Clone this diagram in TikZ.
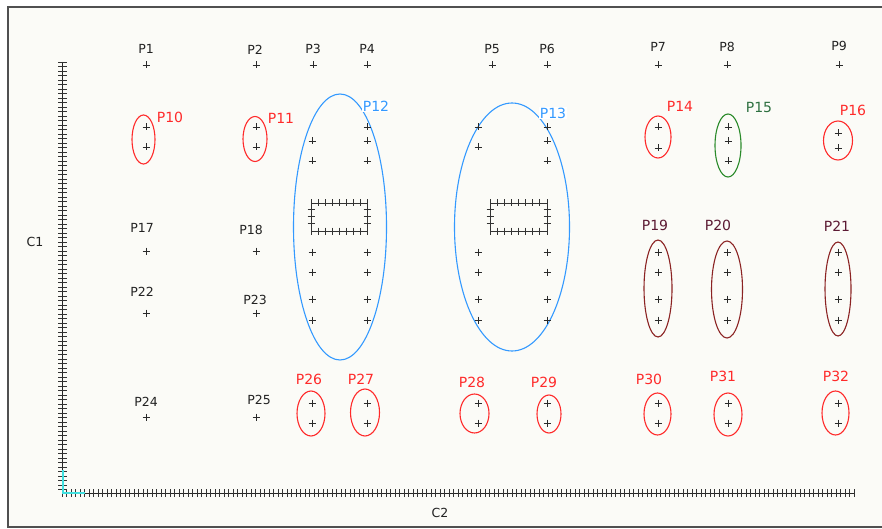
\documentclass[tikz,border=0pt]{standalone}
\usepackage{fontspec}
\setmainfont{DejaVu Sans}
\definecolor{pred}{HTML}{FF2A2A}
\definecolor{pblue}{HTML}{3399FF}
\definecolor{pgreen}{HTML}{2A8A2A}
\definecolor{pgreenlab}{HTML}{2E7040}
\definecolor{pmaroon}{HTML}{8B2323}
\definecolor{pmlab}{HTML}{5C1A33}
\definecolor{plab}{HTML}{222222}
\definecolor{bgc}{HTML}{FBFBF7}
\definecolor{framec}{HTML}{505050}
\definecolor{cyanax}{HTML}{40E0E0}
\definecolor{ptc}{HTML}{2A2A2A}
\tikzset{
  ptline/.style={draw=ptc, line width=0.75pt},
  pt/.pic={\draw[ptline] (-3.5,0)--(3.5,0) (0,-3.5)--(0,3.5);},
  blklab/.style={text=plab, font=\fontsize{12.5}{14}\selectfont, inner sep=0.5pt},
  redlab/.style={text=pred, font=\fontsize{14}{16}\selectfont, inner sep=0.5pt},
  bluelab/.style={text=pblue, font=\fontsize{14}{16}\selectfont, inner sep=1pt, fill=white},
  greenlab/.style={text=pgreenlab, font=\fontsize{14}{16}\selectfont, inner sep=0.5pt},
  marlab/.style={text=pmlab, font=\fontsize{14}{16}\selectfont, inner sep=0.5pt},
  redell/.style={draw=pred, line width=1.1pt},
  blueell/.style={draw=pblue, line width=1.1pt},
  greenell/.style={draw=pgreen, line width=1.1pt},
  marell/.style={draw=pmaroon, line width=1.1pt},
  axisline/.style={draw=black!85, line width=0.9pt},
  tickline/.style={draw=black!80, line width=0.85pt},
}
\begin{document}
\begin{tikzpicture}[x=1pt,y=-1pt]
\useasboundingbox (0,0) rectangle (882,529);
% background and frame
\fill[white] (0,0) rectangle (882,529);
\fill[bgc] (8,7) rectangle (882,527);
\draw[framec, line width=1.4pt] (882,7) -- (8,7) -- (8,527) -- (882,527);

% axes
\draw[axisline] (62,62) -- (62,493) -- (855,493);
\foreach \y in {62,66.5,...,493} \draw[tickline] (58,\y) -- (67,\y);
\foreach \x in {62,66.5,...,856} \draw[tickline] (\x,489) -- (\x,497);
\draw[cyanax, line width=1.2pt] (63,470) -- (63,493) -- (85,493);
\node[blklab] (c1) at (35,242) {C1};
\node[blklab] (c2) at (440,513) {C2};

% top row
\foreach \x in {146,256,313,367,492,547,658,727,839} \pic at (\x,65) {pt};
\node[blklab] (p1) at (146,49) {P1};
\node[blklab] (p2) at (255,50) {P2};
\node[blklab] (p3) at (313,49) {P3};
\node[blklab] (p4) at (367,49) {P4};
\node[blklab] (p5) at (492,49) {P5};
\node[blklab] (p6) at (547,49) {P6};
\node[blklab] (p7) at (658,47) {P7};
\node[blklab] (p8) at (727,47) {P8};
\node[blklab] (p9) at (839,46) {P9};

% P10, P11
\draw[redell] (143.5,139.5) ellipse [x radius=11.5, y radius=24.5];
\pic at (146,127) {pt}; \pic at (146,147) {pt};
\node[redlab] (p10) at (170,117) {P10};
\draw[redell] (255,139) ellipse [x radius=12, y radius=22.5];
\pic at (256,127) {pt}; \pic at (256,147) {pt};
\node[redlab] (p11) at (281,118) {P11};

% P12
\draw[blueell] (340,227) ellipse [x radius=46.5, y radius=133];
\foreach \x/\y in {367/127,312/141,367/141,312/161,367/161} \pic at (\x,\y) {pt};
\foreach \y in {252,272,299,320} {\pic at (312,\y) {pt}; \pic at (367,\y) {pt};}
\draw[tickline] (311,203) rectangle (367,231);
\foreach \x in {311,318,...,367} {\draw[tickline] (\x,199.5) -- (\x,206.5); \draw[tickline] (\x,227.5) -- (\x,234.5);}
\foreach \y in {209,216,223} {\draw[tickline] (307.5,\y) -- (314.5,\y); \draw[tickline] (363.5,\y) -- (370.5,\y);}
\node[bluelab] (p12) at (376,106) {P12};

% P13
\draw[blueell] (512,227) ellipse [x radius=57.5, y radius=124];
\foreach \x/\y in {478/127,547/127,478/147,547/141,547/161} \pic at (\x,\y) {pt};
\foreach \y in {252,272,299,320} {\pic at (478,\y) {pt}; \pic at (547,\y) {pt};}
\draw[tickline] (490,203) rectangle (547,231);
\foreach \x in {490,497.125,...,547.1} {\draw[tickline] (\x,199.5) -- (\x,206.5); \draw[tickline] (\x,227.5) -- (\x,234.5);}
\foreach \y in {209,216,223} {\draw[tickline] (486.5,\y) -- (493.5,\y); \draw[tickline] (543.5,\y) -- (550.5,\y);}
\node[bluelab] (p13) at (553,113) {P13};

% P14, P15, P16
\draw[redell] (658,137) ellipse [x radius=13, y radius=21];
\pic at (658,127) {pt}; \pic at (658,148) {pt};
\node[redlab] (p14) at (680,106) {P14};
\draw[greenell] (728,145.5) ellipse [x radius=13, y radius=31.5];
\pic at (728,127) {pt}; \pic at (728,141) {pt}; \pic at (728,161) {pt};
\node[greenlab] (p15) at (759,107) {P15};
\draw[redell] (838,140.5) ellipse [x radius=14.5, y radius=19.5];
\pic at (838,133) {pt}; \pic at (838,148) {pt};
\node[redlab] (p16) at (853,110) {P16};

% P17, P18, P22, P23
\pic at (146,251) {pt}; \node[blklab] (p17) at (142,228) {P17};
\pic at (256,251) {pt}; \node[blklab] (p18) at (251,230) {P18};
\pic at (146,313) {pt}; \node[blklab] (p22) at (142,292) {P22};
\pic at (256,313) {pt}; \node[blklab] (p23) at (255,300) {P23};

% P19, P20, P21
\draw[marell] (658,288.5) ellipse [x radius=14, y radius=48.5];
\draw[marell] (727,289.5) ellipse [x radius=15.5, y radius=48.5];
\draw[marell] (838,289) ellipse [x radius=13, y radius=47];
\foreach \x in {658,727,838} \foreach \y in {252,272,299,320} \pic at (\x,\y) {pt};
\node[marlab] (p19) at (655,225) {P19};
\node[marlab] (p20) at (718,225) {P20};
\node[marlab] (p21) at (837,226) {P21};

% bottom row
\pic at (146,417) {pt}; \node[blklab] (p24) at (146,402) {P24};
\pic at (256,417) {pt}; \node[blklab] (p25) at (259,400) {P25};
\draw[redell] (311,413.5) ellipse [x radius=14, y radius=22.5];
\draw[redell] (365,412.5) ellipse [x radius=14.5, y radius=23.5];
\draw[redell] (474.5,413.5) ellipse [x radius=14.5, y radius=19.5];
\draw[redell] (549,414) ellipse [x radius=12, y radius=19];
\draw[redell] (657.5,414) ellipse [x radius=13.5, y radius=21];
\draw[redell] (728,414.5) ellipse [x radius=14, y radius=21.5];
\draw[redell] (835.5,413) ellipse [x radius=13.5, y radius=22];
\foreach \x in {312,367,478,547,658,728,838} {\pic at (\x,403) {pt}; \pic at (\x,423) {pt};}
\node[redlab] (p26) at (309,379) {P26};
\node[redlab] (p27) at (361,379) {P27};
\node[redlab] (p28) at (472,382) {P28};
\node[redlab] (p29) at (544,382) {P29};
\node[redlab] (p30) at (649,379) {P30};
\node[redlab] (p31) at (723,376) {P31};
\node[redlab] (p32) at (836,376) {P32};
\end{tikzpicture}
\end{document}
